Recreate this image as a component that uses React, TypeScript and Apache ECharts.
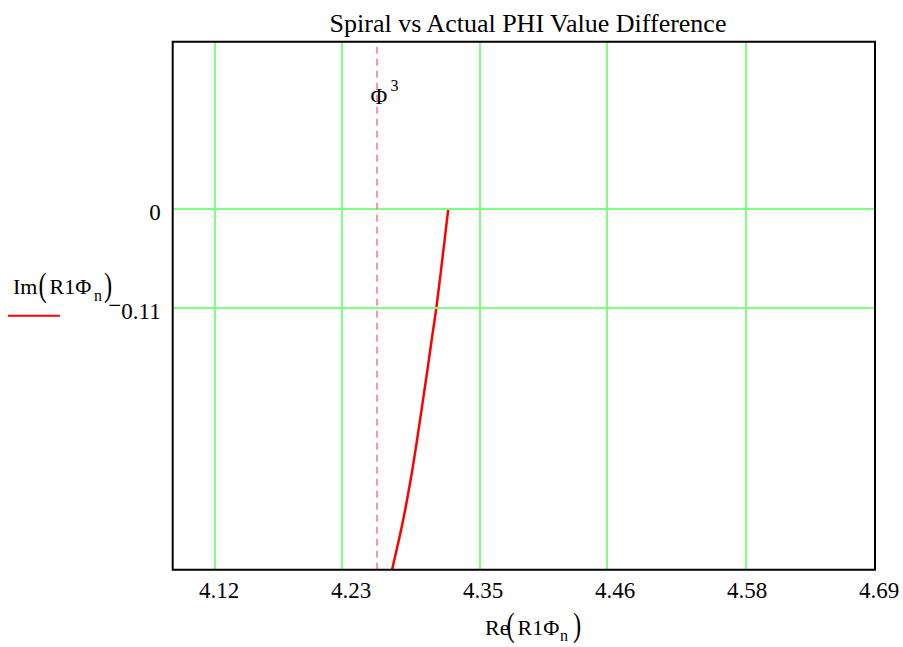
import React, { useEffect, useRef } from 'react';
import * as echarts from 'echarts';

const chartTitle = 'Spiral vs Actual PHI Value Difference';
const xTickValues = [4.12, 4.2345, 4.349, 4.4635, 4.578, 4.6925];
const xTickLabels = ['4.12', '4.23', '4.35', '4.46', '4.58', '4.69'];
const yTickValues = [0, -0.11];
const yTickLabels = ['0', '\u22120.11'];
const xRange = [4.0833, 4.6925];
const yRange = [-0.4, 0.1845];
const phi3Marker = 4.2637;
const curveRe = [4.3224, 4.3173, 4.312, 4.3079, 4.3042, 4.2952, 4.2896, 4.2822, 4.2735];
const curveIm = [0, -0.0551, -0.11, -0.146, -0.1793, -0.2569, -0.3013, -0.3512, -0.4005];

const SERIF = 'Liberation Serif';

function lookup(values: number[], labels: string[], v: number): string {
  let best = 0;
  for (let i = 1; i < values.length; i++) {
    if (Math.abs(values[i] - v) < Math.abs(values[best] - v)) best = i;
  }
  return labels[best];
}

function txt(text: string, x: number, y: number, size: number, extra: any = {}) {
  return {
    type: 'text',
    x,
    y,
    silent: true,
    ...extra,
    style: {
      text,
      fontSize: size,
      fontFamily: SERIF,
      font: `${size}px ${SERIF}`,
      fill: '#000',
      textAlign: 'left',
      textVerticalAlign: 'middle',
      verticalAlign: 'middle',
    },
  };
}

export default function App() {
  const ref = useRef<HTMLDivElement>(null);
  useEffect(() => {
    if (!ref.current) return;
    const chart = echarts.init(ref.current, undefined, { renderer: 'svg' });
    const curve = curveRe.map((x, i) => [x, curveIm[i]]);
    const paren = (t: string, x: number, y: number) =>
      txt(t, x, y, 34, { scaleX: 0.72, originX: 0, originY: 0 });
    chart.setOption({
      animation: false,
      backgroundColor: '#fff',
      textStyle: { fontFamily: SERIF },
      title: {
        text: chartTitle,
        left: 523,
        top: 5,
        textAlign: 'center',
        textStyle: { fontFamily: SERIF, fontSize: 26, fontWeight: 'normal', color: '#000' },
      },
      grid: {
        left: 172.7,
        top: 41.7,
        right: 28,
        bottom: 77.3,
        show: true,
        borderColor: '#000',
        borderWidth: 2,
        backgroundColor: 'transparent',
        z: 10,
      },
      xAxis: {
        type: 'value',
        min: xRange[0],
        max: xRange[1],
        axisLine: { show: false },
        axisTick: { show: false },
        splitLine: { show: false },
        axisLabel: {
          customValues: xTickValues,
          formatter: (v: number) => lookup(xTickValues, xTickLabels, v),
          fontFamily: SERIF,
          fontSize: 23,
          color: '#000',
          margin: 9,
          padding: [0, 0, 0, 8],
        },
      },
      yAxis: {
        type: 'value',
        min: yRange[0],
        max: yRange[1],
        axisLine: { show: false },
        axisTick: { show: false },
        splitLine: { show: false },
        axisLabel: {
          customValues: yTickValues,
          formatter: (v: number) => {
            const s = lookup(yTickValues, yTickLabels, v);
            return s.charAt(0) === '\u2212' ? `{m|\u2212}{d|${s.slice(1)}}` : `{d|${s}}`;
          },
          fontFamily: SERIF,
          fontSize: 23,
          color: '#000',
          margin: 12,
          padding: [8, 0, 0, 0],
          rich: {
            m: { fontFamily: SERIF, fontSize: 23, color: '#000', padding: [0, 0, 12, 0] },
            d: { fontFamily: SERIF, fontSize: 23, color: '#000' },
          },
        },
      },
      series: [
        {
          type: 'line',
          data: [],
          z: 1,
          markLine: {
            silent: true,
            symbol: ['none', 'none'],
            label: { show: false },
            lineStyle: { color: '#80ff80', width: 2, type: 'solid' },
            data: [
              ...xTickValues.slice(0, xTickValues.length - 1).map((v) => ({ xAxis: v })),
              ...yTickValues.map((v) => ({ yAxis: v })),
            ],
          },
        },
        {
          type: 'line',
          data: [],
          z: 2,
          markLine: {
            silent: true,
            symbol: ['none', 'none'],
            label: { show: false },
            lineStyle: { color: '#ff8080', width: 1.6, type: [7, 5] },
            data: [{ xAxis: phi3Marker }],
          },
        },
        {
          type: 'line',
          data: curve,
          z: 3,
          smooth: 0.3,
          showSymbol: false,
          symbol: 'none',
          clip: true,
          lineStyle: { color: '#ff0000', width: 2.5 },
        },
      ],
      graphic: [
        // Phi^3 marker label
        txt('\u03A6', 370.5, 96.5, 23),
        txt('3', 390.5, 85, 16),
        // legend
        txt('Im', 13, 286, 22),
        paren('(', 38.5, 285),
        txt('R1\u03A6', 49.5, 286, 22),
        txt('n', 94, 295.5, 16),
        paren(')', 104, 285),
        { type: 'line', silent: true, shape: { x1: 8, y1: 315.7, x2: 60, y2: 315.7 }, style: { stroke: '#ff0000', lineWidth: 2 } },
        // x axis name
        txt('Re', 485, 627, 22),
        paren('(', 506.5, 625),
        txt('R1\u03A6', 517.5, 627, 22),
        txt('n', 560, 635.5, 16),
        paren(')', 573, 625),
      ],
    });
    return () => chart.dispose();
  }, []);
  return <div ref={ref} style={{ position: 'fixed', left: 0, top: 0, width: 903, height: 647 }} />;
}
